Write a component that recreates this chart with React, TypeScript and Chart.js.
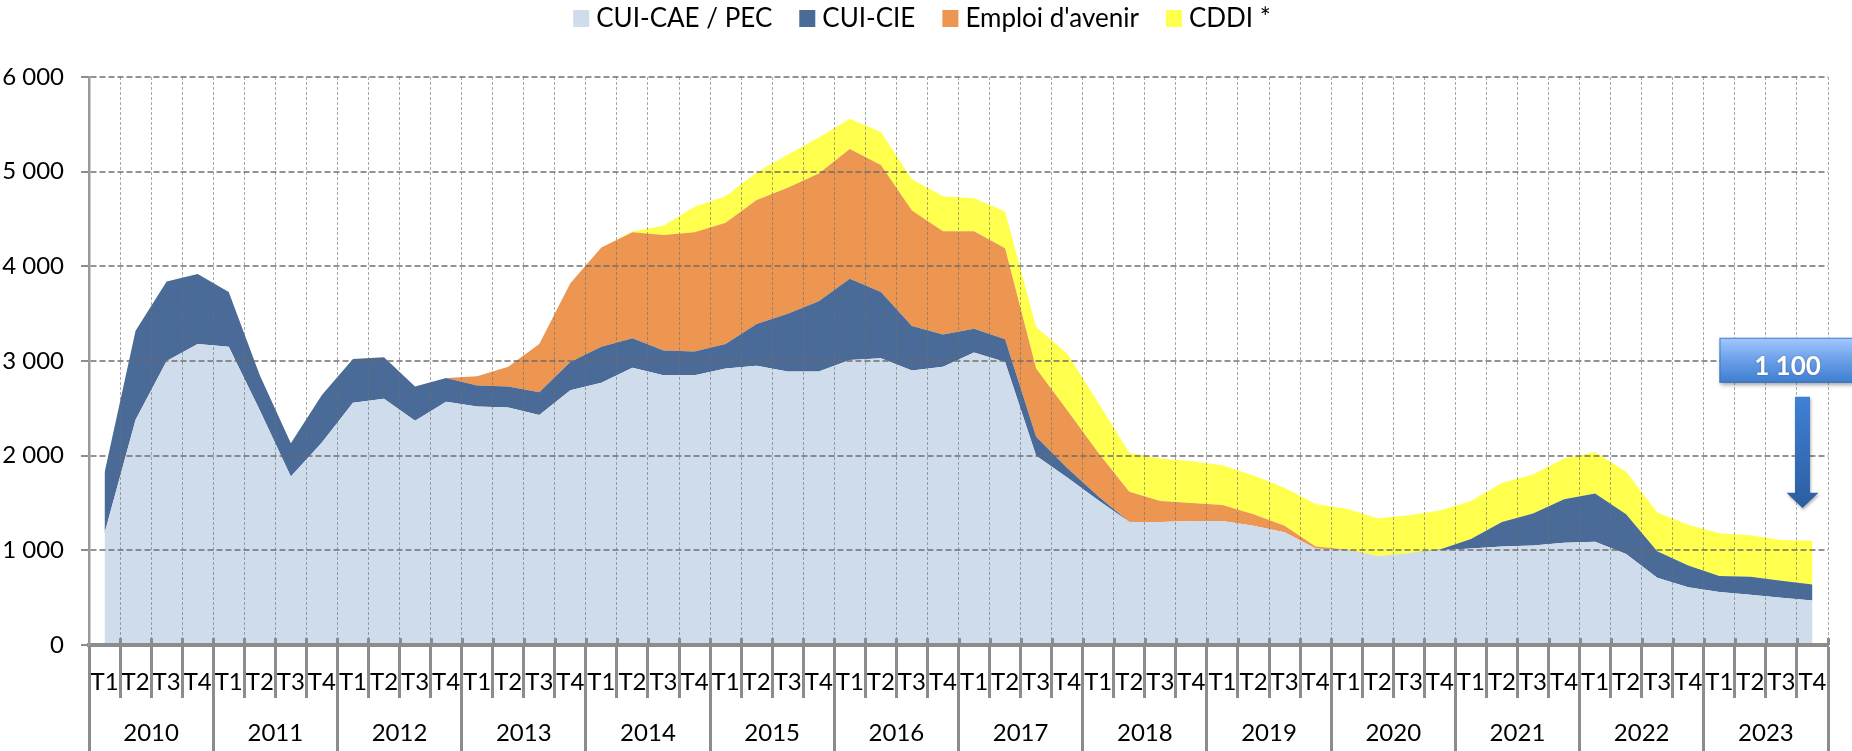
import React, { useEffect, useRef } from 'react';
import { Chart, registerables } from 'chart.js';

Chart.register(...registerables);

const FONT = 'Lato, "Noto Sans", "DejaVu Sans", sans-serif';

const YEARS = ['2010', '2011', '2012', '2013', '2014', '2015', '2016', '2017', '2018', '2019', '2020', '2021', '2022', '2023'];
const QUARTERS = ['T1', 'T2', 'T3', 'T4'];
const CATEGORIES = YEARS.flatMap(() => QUARTERS);

const SERIES_NAMES = ['CUI-CAE / PEC', 'CUI-CIE', "Emploi d'avenir", 'CDDI *'];
const SERIES_COLORS = ['#CFDCEB', '#4A6B98', '#EC9651', '#FFFF4D'];

const CUI_CAE_PEC = [
  1180, 2380, 3000, 3180,
  3150, 2480, 1780, 2140,
  2560, 2600, 2370, 2570,
  2520, 2510, 2430, 2690,
  2770, 2930, 2850, 2850,
  2920, 2950, 2890, 2890,
  3010, 3030, 2900, 2940,
  3090, 2990, 2000, 1770,
  1530, 1300, 1300, 1310,
  1310, 1260, 1190, 1020,
  1000, 940, 970, 1000,
  1020, 1040, 1050, 1080,
  1090, 960, 710, 610,
  560, 530, 500, 470,
];

const CUI_CIE = [
  640, 940, 840, 740,
  580, 370, 350, 500,
  460, 440, 360, 250,
  220, 220, 240, 300,
  380, 310, 260, 250,
  260, 440, 610, 740,
  860, 700, 470, 340,
  250, 240, 200, 100,
  40, 0, 0, 0,
  0, 0, 0, 0,
  0, 0, 0, 10,
  100, 260, 340, 460,
  510, 420, 280, 230,
  170, 190, 180, 170,
];

const EMPLOI_AVENIR = [
  0, 0, 0, 0,
  0, 0, 0, 0,
  0, 0, 0, 0,
  100, 210, 510, 830,
  1050, 1120, 1220, 1260,
  1280, 1310, 1330, 1350,
  1370, 1340, 1220, 1090,
  1030, 960, 720, 610,
  460, 320, 220, 190,
  170, 120, 70, 20,
  10, 0, 0, 0,
  0, 0, 0, 0,
  0, 0, 0, 0,
  0, 0, 0, 0,
];

const CDDI = [
  0, 0, 0, 0,
  0, 0, 0, 0,
  0, 0, 0, 0,
  0, 0, 0, 0,
  0, 10, 100, 270,
  280, 290, 350, 380,
  320, 350, 330, 370,
  350, 390, 440, 600,
  530, 410, 450, 440,
  420, 410, 400, 450,
  430, 400, 400, 410,
  400, 410, 410, 430,
  440, 450, 410, 430,
  450, 440, 430, 460,
];

const SERIES = [CUI_CAE_PEC, CUI_CIE, EMPLOI_AVENIR, CDDI];

const Y_MAX = 6000;
const Y_STEP = 1000;

function fmt(v: number): string {
  return String(Math.round(v)).replace(/\B(?=(\d{3})+(?!\d))/g, ' ');
}

const legendPlugin = {
  id: 'customLegend',
  afterDraw(chart: any) {
    const ctx = chart.ctx;
    ctx.save();
    ctx.font = `26px ${FONT}`;
    const box = 16;
    const gapText = 7;
    const gapItem = 27;
    const items = chart.data.datasets.map((ds: any) => ({
      text: ds.label,
      color: ds.backgroundColor,
      w: ctx.measureText(ds.label).width,
    }));
    const total = items.reduce((s: number, it: any) => s + box + gapText + it.w, 0) + gapItem * (items.length - 1);
    let x = chart.width / 2 - total / 2 - 4;
    ctx.textBaseline = 'alphabetic';
    ctx.textAlign = 'left';
    for (const it of items) {
      ctx.fillStyle = it.color;
      ctx.fillRect(x, 10, box, 17);
      ctx.fillStyle = '#000';
      ctx.fillText(it.text, x + box + gapText, 27);
      x += box + gapText + it.w + gapItem;
    }
    ctx.restore();
  },
};

const annotationPlugin = {
  id: 'lastValueCallout',
  afterDraw(chart: any) {
    const { ctx, scales } = chart;
    const xs = scales.x;
    const ys = scales.y;
    const last = CATEGORIES.length - 1;
    const total = SERIES.reduce((s, arr) => s + arr[last], 0);
    const xc = xs.getPixelForValue(last);

    // callout box
    const bx = xc - 93;
    const bw = 136;
    const by = ys.getPixelForValue(3245);
    const bh = ys.getPixelForValue(2770) - by;
    ctx.save();
    ctx.shadowColor = 'rgba(0,0,0,0.35)';
    ctx.shadowBlur = 4;
    ctx.shadowOffsetX = 2;
    ctx.shadowOffsetY = 2;
    const g = ctx.createLinearGradient(0, by, 0, by + bh);
    g.addColorStop(0, '#A3C8FF');
    g.addColorStop(0.5, '#6A9FE8');
    g.addColorStop(1, '#3E7DD0');
    ctx.fillStyle = g;
    ctx.fillRect(bx, by, bw, bh);
    ctx.restore();

    ctx.save();
    ctx.strokeStyle = 'rgba(60,110,180,0.8)';
    ctx.lineWidth = 1;
    ctx.strokeRect(bx + 0.5, by + 0.5, bw - 1, bh - 1);
    ctx.font = `bold 26px ${FONT}`;
    ctx.fillStyle = '#FFFFFF';
    ctx.textAlign = 'center';
    ctx.textBaseline = 'alphabetic';
    ctx.shadowColor = 'rgba(0,0,0,0.3)';
    ctx.shadowBlur = 2;
    ctx.fillText(fmt(total), bx + 68, by + 37);
    ctx.restore();

    // down arrow
    const ax = xc - 10;
    const aTop = ys.getPixelForValue(2622);
    const aHead = ys.getPixelForValue(1607);
    const aTip = ys.getPixelForValue(1448);
    ctx.save();
    ctx.shadowColor = 'rgba(0,0,0,0.3)';
    ctx.shadowBlur = 3;
    ctx.shadowOffsetX = 1;
    ctx.shadowOffsetY = 2;
    const ga = ctx.createLinearGradient(0, aTop, 0, aTip);
    ga.addColorStop(0, '#3F80D6');
    ga.addColorStop(1, '#2C5D9F');
    ctx.fillStyle = ga;
    ctx.beginPath();
    ctx.moveTo(ax - 7.5, aTop);
    ctx.lineTo(ax + 7.5, aTop);
    ctx.lineTo(ax + 7.5, aHead);
    ctx.lineTo(ax + 16, aHead);
    ctx.lineTo(ax, aTip);
    ctx.lineTo(ax - 16, aHead);
    ctx.lineTo(ax - 7.5, aHead);
    ctx.closePath();
    ctx.fill();
    ctx.restore();

    // small tick stubs above the category axis
    ctx.save();
    ctx.strokeStyle = '#8c8c8c';
    ctx.lineWidth = 3;
    const bottom = chart.chartArea.bottom;
    const step = (xs.right - xs.left) / CATEGORIES.length;
    ctx.beginPath();
    for (let i = 1; i <= CATEGORIES.length; i++) {
      const px = Math.round(xs.left + i * step) + 0.5;
      ctx.moveTo(px, bottom - 7);
      ctx.lineTo(px, bottom);
    }
    ctx.stroke();
    ctx.restore();
  },
};

export default function App() {
  const canvasRef = useRef<HTMLCanvasElement | null>(null);

  useEffect(() => {
    const canvas = canvasRef.current;
    if (!canvas) return;
    Chart.defaults.font.family = FONT;

    const datasets = SERIES.map((data, i) => ({
      label: SERIES_NAMES[i],
      data,
      backgroundColor: SERIES_COLORS[i],
      borderColor: SERIES_COLORS[i],
      borderWidth: 0,
      pointRadius: 0,
      pointHoverRadius: 0,
      tension: 0,
      fill: i === 0 ? 'origin' : '-1',
    }));

    const chart = new Chart(canvas, {
      type: 'line',
      data: { labels: CATEGORIES, datasets },
      options: {
        animation: false,
        responsive: false,
        devicePixelRatio: 1,
        layout: { padding: { top: 77, left: 0, right: 24, bottom: 0 } },
        plugins: {
          legend: { display: false },
          tooltip: { enabled: false },
        },
        elements: { line: { borderWidth: 0 } },
        scales: {
          x: {
            type: 'category',
            offset: true,
            weight: 0,
            ticks: {
              autoSkip: false,
              maxRotation: 0,
              minRotation: 0,
              color: '#000',
              font: { size: 24, family: FONT },
              padding: -30,
            },
            grid: {
              offset: true,
              z: 1,
              color: 'rgba(110,110,110,0.6)',
              lineWidth: 1,
              tickLength: 53,
              tickColor: '#8c8c8c',
              tickWidth: 3,
              tickBorderDash: [],
            },
            border: { z: 1, color: '#8c8c8c', width: 4, dash: [3, 2] },
            afterFit: (s: any) => { s.height = 53; },
          },
          x2: {
            type: 'category',
            labels: YEARS,
            position: 'bottom',
            offset: true,
            weight: 1,
            ticks: {
              autoSkip: false,
              maxRotation: 0,
              minRotation: 0,
              color: '#000',
              font: { size: 24, family: FONT },
              padding: -32,
            },
            grid: {
              offset: true,
              drawOnChartArea: false,
              tickLength: 53,
              tickColor: '#8c8c8c',
              tickWidth: 3,
              tickBorderDash: [],
            },
            border: { display: false },
            afterFit: (s: any) => { s.height = 53; },
          },
          y: {
            stacked: true,
            min: 0,
            max: Y_MAX,
            ticks: {
              stepSize: Y_STEP,
              color: '#000',
              font: { size: 24, family: FONT },
              padding: 17,
              callback: (v: any) => fmt(Number(v)),
            },
            grid: {
              z: 1,
              color: (c: any) => (c.tick && c.tick.value === 0 ? 'rgba(0,0,0,0)' : 'rgba(105,105,105,0.72)'),
              lineWidth: 2,
              tickLength: 8,
              tickColor: '#8c8c8c',
              tickWidth: 2,
              tickBorderDash: [],
            },
            border: { z: 1, color: '#9a9a9a', width: 2.5, dash: [6, 3] },
            afterFit: (s: any) => { s.width = 89; },
          },
        },
      },
      plugins: [legendPlugin, annotationPlugin],
    } as any);

    return () => chart.destroy();
  }, []);

  return (
    <div style={{ position: 'fixed', left: 0, top: 0, width: 1852, height: 751, background: '#fff' }}>
      <canvas ref={canvasRef} width={1852} height={751} style={{ width: 1852, height: 751, display: 'block' }} />
    </div>
  );
}
